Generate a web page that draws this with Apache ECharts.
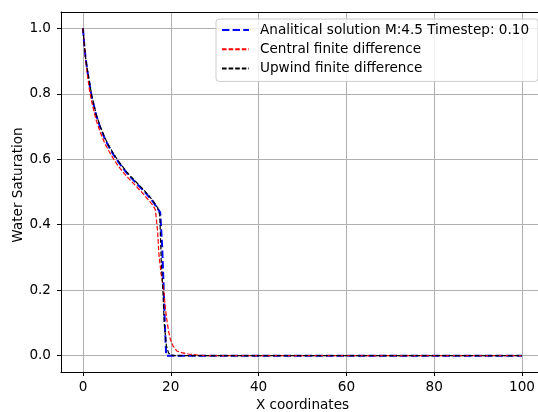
<!DOCTYPE html>
<html>
<head>
<meta charset="utf-8">
<script src="https://cdn.jsdelivr.net/npm/echarts@6/dist/echarts.min.js"></script>
<style>html,body{margin:0;padding:0;background:#fff;}#c{width:538px;height:412px;}</style>
</head>
<body>
<div id="c"></div>
<script>
// Analytical solution
var xAnalytical = [0, 0.3, 0.6, 1, 1.5, 2, 3, 4, 5, 6, 7, 8, 9, 10, 11, 12, 13, 14, 15, 16, 17, 17.6, 17.95, 18.05, 18.4, 18.7, 18.95, 20, 30, 40, 50, 60, 70, 80, 90, 100];
var yAnalytical = [1.0, 0.95, 0.91, 0.87, 0.83, 0.79, 0.735, 0.695, 0.662, 0.636, 0.613, 0.593, 0.575, 0.558, 0.543, 0.529, 0.515, 0.501, 0.486, 0.469, 0.450, 0.437, 0.433, 0.33, 0.2, 0.08, 0.0, 0, 0, 0, 0, 0, 0, 0, 0, 0];
// Central finite difference
var xCentral = [0, 0.5, 1, 1.5, 2, 3, 4, 5, 6, 7, 8, 9, 10, 11, 12, 13, 14, 15, 16, 16.5, 17, 17.3, 17.8, 18.4, 18.8, 19.1, 19.5, 19.9, 20.5, 21.4, 22.5, 24, 26, 28, 40, 60, 80, 100];
var yCentral = [1.0, 0.92, 0.86, 0.81, 0.775, 0.72, 0.68, 0.648, 0.623, 0.6, 0.58, 0.563, 0.547, 0.533, 0.519, 0.505, 0.49, 0.474, 0.458, 0.445, 0.38, 0.31, 0.25, 0.2, 0.14, 0.11, 0.075, 0.05, 0.03, 0.014, 0.009, 0.005, 0.002, 0.0, 0, 0, 0, 0];
// Upwind finite difference
var xUpwind = [0, 0.3, 0.6, 1, 1.5, 2, 3, 4, 5, 6, 7, 8, 9, 10, 11, 12, 13, 14, 15, 16, 17, 17.5, 17.8, 18.2, 18.5, 19, 19.5, 20, 21, 30, 40, 60, 80, 100];
var yUpwind = [1.0, 0.95, 0.91, 0.875, 0.835, 0.795, 0.738, 0.698, 0.665, 0.639, 0.616, 0.596, 0.578, 0.561, 0.546, 0.532, 0.518, 0.504, 0.489, 0.472, 0.452, 0.43, 0.30, 0.2, 0.1, 0.03, 0.008, 0.002, 0, 0, 0, 0, 0, 0];

var xTicks = [0, 20, 40, 60, 80, 100];
var yTicks = [0.0, 0.2, 0.4, 0.6, 0.8, 1.0];

var seriesNames = ['Analitical solution M:4.5 Timestep: 0.10', 'Central finite difference', 'Upwind finite difference'];

function pairs(xs, ys) { return xs.map(function (x, i) { return [x, ys[i]]; }); }

var FONT = 'DejaVu Sans';
var FS = 13.6;
var chart = echarts.init(document.getElementById('c'), null, {renderer: 'canvas'});
chart.setOption({
  animation: false,
  backgroundColor: '#fff',
  grid: {left: 61, top: 12, bottom: 40, right: -6, outerBoundsMode: 'none', containLabel: false, show: false},
  legend: {
    orient: 'vertical', left: 216, top: 19,
    data: seriesNames,
    backgroundColor: 'rgba(255,255,255,0.8)', borderColor: '#cccccc', borderWidth: 1, borderRadius: 3,
    padding: [4, 9, 6, 5],
    itemWidth: 27, itemHeight: 14, itemGap: 5.2,
    itemStyle: {color: 'transparent', borderColor: 'transparent', borderWidth: 0, opacity: 0},
    textStyle: {fontFamily: FONT, fontSize: FS, color: '#000', padding: [0, 0, 0, 6]}
  },
  xAxis: [{
    type: 'value', min: -5, max: 105,
    name: 'X coordinates', nameLocation: 'middle', nameGap: 26,
    nameTextStyle: {fontFamily: FONT, fontSize: FS, color: '#000'},
    axisLine: {onZero: false, lineStyle: {color: '#000', width: 1}},
    axisTick: {show: true, inside: false, length: 4, lineStyle: {color: '#000'}, customValues: xTicks},
    axisLabel: {fontFamily: FONT, fontSize: FS, color: '#000', margin: 8, customValues: xTicks},
    splitLine: {show: true, lineStyle: {color: '#b0b0b0', width: 1}}
  }, {
    type: 'value', position: 'top', min: -5, max: 105,
    axisLine: {show: true, onZero: false, lineStyle: {color: '#000', width: 1}},
    axisTick: {show: false}, axisLabel: {show: false}, splitLine: {show: false}
  }],
  yAxis: {
    type: 'value', min: -0.05, max: 1.05,
    name: 'Water Saturation', nameLocation: 'middle', nameGap: 36, nameMoveOverlap: false,
    nameTextStyle: {fontFamily: FONT, fontSize: FS, color: '#000', padding: [0, 0, 0, 14]},
    axisLine: {onZero: false, lineStyle: {color: '#000', width: 1}},
    axisTick: {show: true, inside: false, length: 4, lineStyle: {color: '#000'}, customValues: yTicks},
    axisLabel: {fontFamily: FONT, fontSize: FS, color: '#000', margin: 10, customValues: yTicks,
      formatter: function (v) { return v.toFixed(1); }},
    splitLine: {show: true, lineStyle: {color: '#b0b0b0', width: 1}}
  },
  series: [
    {name: seriesNames[0], type: 'line', data: pairs(xAnalytical, yAnalytical), showSymbol: false, symbol: 'none',
      color: '#0000ff', lineStyle: {color: '#0000ff', width: 2, type: [7.4, 3.2]}},
    {name: seriesNames[1], type: 'line', data: pairs(xCentral, yCentral), showSymbol: false, symbol: 'none',
      color: '#ff0000', lineStyle: {color: '#ff0000', width: 1.2, type: [4.6, 2]}},
    {name: seriesNames[2], type: 'line', data: pairs(xUpwind, yUpwind), showSymbol: false, symbol: 'none',
      color: '#000000', lineStyle: {color: '#000000', width: 1.2, type: [4.6, 2]}}
  ]
});
</script>
</body>
</html>
